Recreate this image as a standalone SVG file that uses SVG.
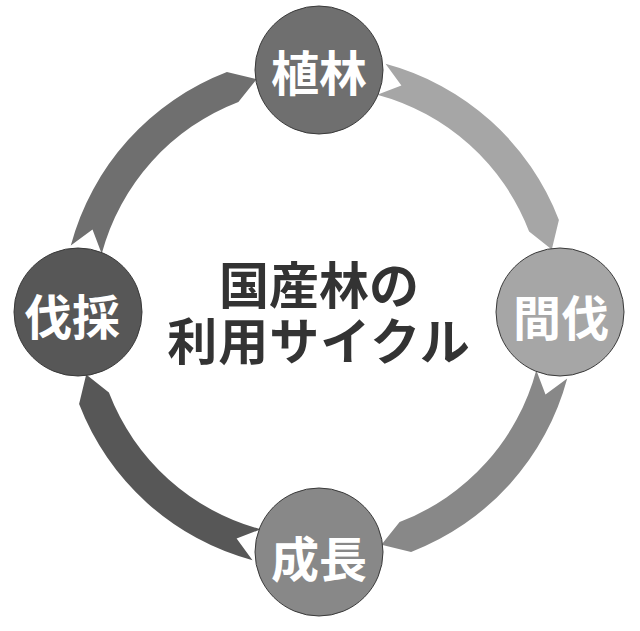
<svg xmlns="http://www.w3.org/2000/svg" width="640" height="631" viewBox="0 0 640 631">
<defs>
<style>
.node{stroke:#3a3a3a;stroke-width:1}
.lbl{font-family:"Noto Sans CJK JP","Noto Sans CJK SC",sans-serif;font-weight:bold;font-size:48px;fill:#ffffff;text-anchor:middle;dominant-baseline:central}
.title{font-family:"Noto Sans CJK JP","Noto Sans CJK SC",sans-serif;font-weight:bold;font-size:50px;fill:#333333;text-anchor:middle}
</style>
<path id="arw" d="M385.5,63.8 A257,257 0 0 1 558.9,219.9 L551.8,249.6 L529.1,231.4 A225,225 0 0 0 377.2,94.7 L401.4,85.5 Z"/>
</defs>
<rect width="640" height="631" fill="#ffffff"/>
<g id="connectors">
<use href="#arw" fill="#a6a6a6"/>
<use href="#arw" fill="#888888" transform="rotate(90 319 312)"/>
<use href="#arw" fill="#575757" transform="rotate(180 319 312)"/>
<use href="#arw" fill="#6f6f6f" transform="rotate(270 319 312)"/>
</g>
<g id="node-shokurin">
<circle class="node" cx="319" cy="70" r="64" fill="#6f6f6f"/>
<text class="lbl" x="319" y="70">植林</text>
</g>
<g id="node-kanbatsu">
<circle class="node" cx="560" cy="312" r="64" fill="#a6a6a6"/>
<text class="lbl" x="561" y="315">間伐</text>
</g>
<g id="node-seicho">
<circle class="node" cx="319" cy="552" r="64" fill="#888888"/>
<text class="lbl" x="319" y="556">成長</text>
</g>
<g id="node-bassai">
<circle class="node" cx="78" cy="312" r="64" fill="#575757"/>
<text class="lbl" x="72" y="314">伐採</text>
</g>
<g id="title">
<text class="title"><tspan x="319" y="304">国産林の</tspan><tspan x="319" y="360" letter-spacing="1">利用サイクル</tspan></text>
</g>
</svg>
